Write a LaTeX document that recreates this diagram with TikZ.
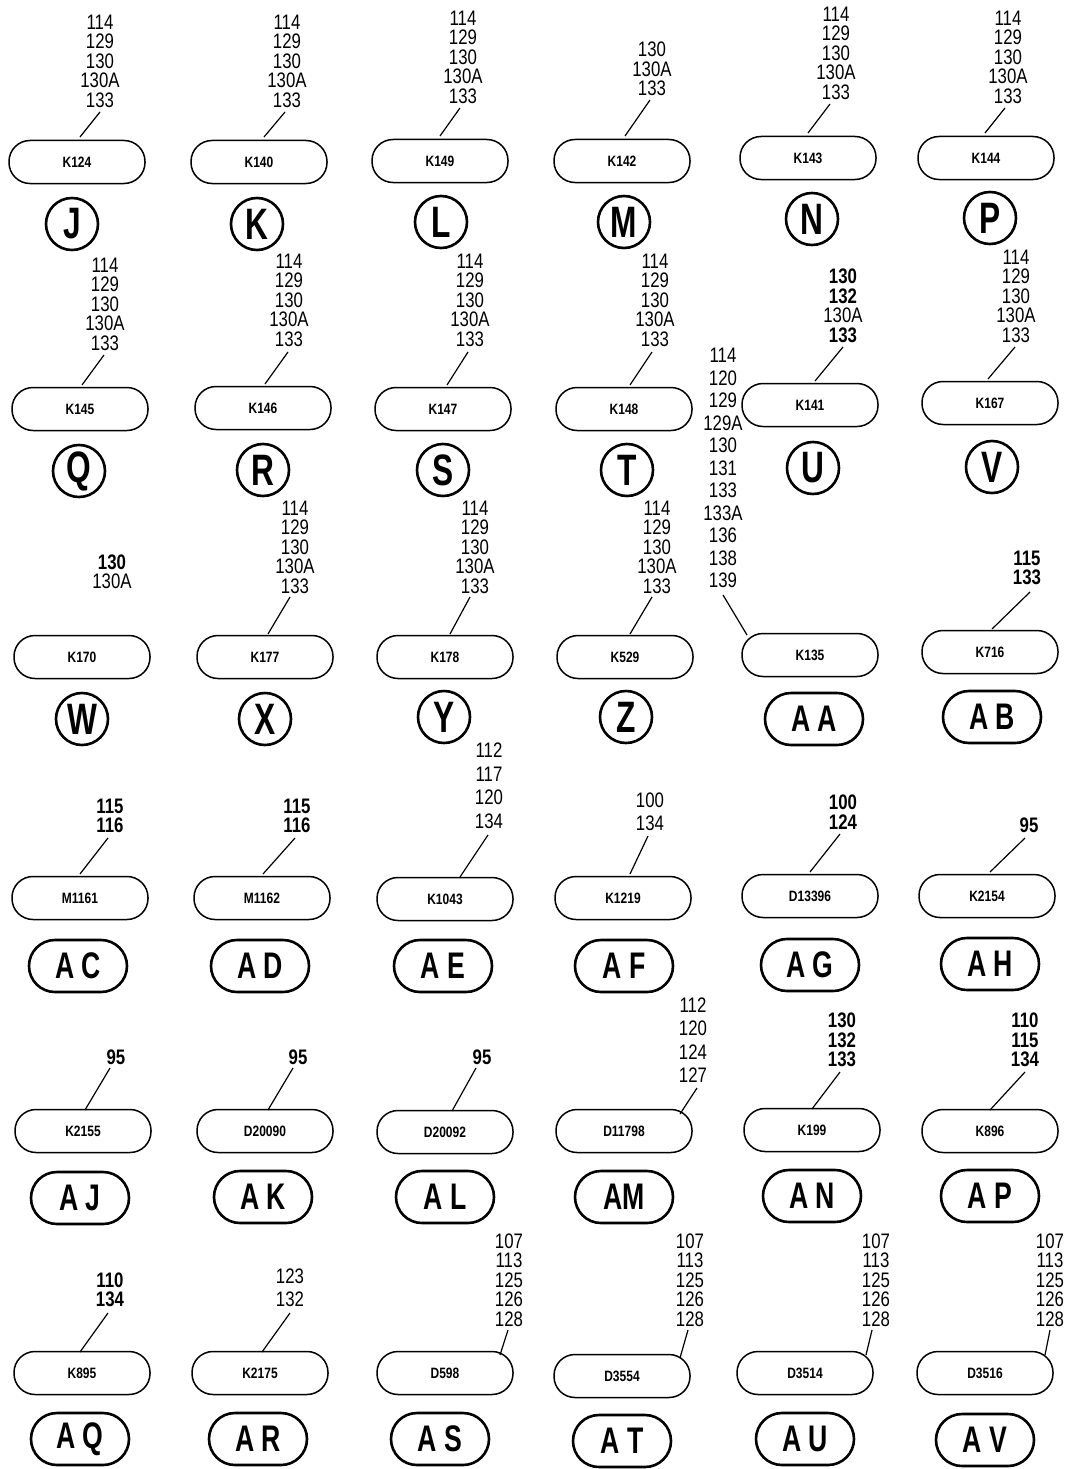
\documentclass[tikz,border=0pt]{standalone}
\usepackage{fontspec}
\newfontfamily\cond[FakeStretch=0.8]{Liberation Sans}
\newfontfamily\condl[FakeStretch=0.72]{Liberation Sans}
\newcommand\nsp[1]{\fontsize{21}{#1}\selectfont}
\tikzset{
  stack/.style={align=center,inner sep=0pt,font=\cond\nsp{19.5}},
  bstack/.style={stack,font=\cond\bfseries\nsp{19.5}},
  kbox/.style={draw,line width=1.5pt,rounded corners=21pt,minimum width=136pt,minimum height=43pt,inner sep=0pt,font=\cond\bfseries\fontsize{15}{15}\selectfont},
  circ/.style={draw,circle,line width=2.6pt,minimum size=52pt,inner sep=0pt,font=\condl\bfseries\fontsize{44}{44}\selectfont},
  pill/.style={draw,line width=2.6pt,rounded corners=26pt,minimum width=98pt,minimum height=52pt,inner sep=0pt,font=\condl\bfseries\fontsize{37}{37}\selectfont},
  lead/.style={line width=1.2pt}
}
\begin{document}
\begin{tikzpicture}[x=1pt,y=-1pt]
\useasboundingbox[fill=white] (0,0) rectangle (1066,1469);
% ---------- Row 1
\node[kbox] (bJ) at (77,162) {K124};
\node[circ] (cJ) at (72,224) {J};
\node[stack] (sJ) at (100,61) {114\\129\\130\\130A\\133};
\coordinate (Ja) at (100,112); \coordinate (Jb) at (80,137);
\draw[lead] (Ja) -- (Jb);

\node[kbox] (bK) at (259,162) {K140};
\node[circ] (cK) at (257,224) {K};
\node[stack] (sK) at (287,61) {114\\129\\130\\130A\\133};
\coordinate (Ka) at (285,112); \coordinate (Kb) at (264,137);
\draw[lead] (Ka) -- (Kb);

\node[kbox] (bL) at (440,161) {K149};
\node[circ] (cL) at (441,222) {L};
\node[stack] (sL) at (463,57) {114\\129\\130\\130A\\133};
\coordinate (La) at (460,108); \coordinate (Lb) at (440,136);
\draw[lead] (La) -- (Lb);

\node[kbox] (bM) at (622,161) {K142};
\node[circ] (cM) at (624,222) {M};
\node[stack] (sM) at (652,69) {130\\130A\\133};
\coordinate (Ma) at (650,100); \coordinate (Mb) at (625,136);
\draw[lead] (Ma) -- (Mb);

\node[kbox] (bN) at (808,158) {K143};
\node[circ] (cN) at (812,219) {N};
\node[stack] (sN) at (836,53) {114\\129\\130\\130A\\133};
\coordinate (Na) at (830,104); \coordinate (Nb) at (808,133);
\draw[lead] (Na) -- (Nb);

\node[kbox] (bP) at (986,158) {K144};
\node[circ] (cP) at (990,218) {P};
\node[stack] (sP) at (1008,57) {114\\129\\130\\130A\\133};
\coordinate (Pa) at (1005,108); \coordinate (Pb) at (985,133);
\draw[lead] (Pa) -- (Pb);

% ---------- Row 2
\node[kbox] (bQ) at (80,409) {K145};
\node[circ] (cQ) at (79,471) {Q};
\node[stack] (sQ) at (105,304) {114\\129\\130\\130A\\133};
\coordinate (Qa) at (104,355); \coordinate (Qb) at (82,385);
\draw[lead] (Qa) -- (Qb);

\node[kbox] (bR) at (263,408) {K146};
\node[circ] (cR) at (263,470) {R};
\node[stack] (sR) at (289,300) {114\\129\\130\\130A\\133};
\coordinate (Ra) at (288,352); \coordinate (Rb) at (265,384);
\draw[lead] (Ra) -- (Rb);

\node[kbox] (bS) at (443,409) {K147};
\node[circ] (cS) at (443,470) {S};
\node[stack] (sS) at (470,300) {114\\129\\130\\130A\\133};
\coordinate (Sa) at (468,352); \coordinate (Sb) at (447,385);
\draw[lead] (Sa) -- (Sb);

\node[kbox] (bT) at (624,409) {K148};
\node[circ] (cT) at (627,470) {T};
\node[stack] (sT) at (655,300) {114\\129\\130\\130A\\133};
\coordinate (Ta) at (652,352); \coordinate (Tb) at (630,385);
\draw[lead] (Ta) -- (Tb);

\node[kbox] (bU) at (810,405) {K141};
\node[circ] (cU) at (813,468) {U};
\node[stack] (sU) at (843,306) {\textbf{130}\\\textbf{132}\\130A\\\textbf{133}};
\coordinate (Ua) at (843,347); \coordinate (Ub) at (815,381);
\draw[lead] (Ua) -- (Ub);

\node[kbox] (bV) at (990,403) {K167};
\node[circ] (cV) at (992,467) {V};
\node[stack] (sV) at (1016,296) {114\\129\\130\\130A\\133};
\coordinate (Va) at (1015,347); \coordinate (Vb) at (988,379);
\draw[lead] (Va) -- (Vb);

% ---------- Row 3
\node[kbox] (bW) at (82,657) {K170};
\node[circ] (cW) at (82,719) {W};
\node[stack] (sW) at (112,572) {\textbf{130}\\130A};

\node[kbox] (bX) at (265,657) {K177};
\node[circ] (cX) at (265,719) {X};
\node[stack] (sX) at (295,547) {114\\129\\130\\130A\\133};
\coordinate (Xa) at (290,597); \coordinate (Xb) at (268,634);
\draw[lead] (Xa) -- (Xb);

\node[kbox] (bY) at (445,657) {K178};
\node[circ] (cY) at (444,717) {Y};
\node[stack] (sY) at (475,547) {114\\129\\130\\130A\\133};
\coordinate (Ya) at (470,597); \coordinate (Yb) at (450,634);
\draw[lead] (Ya) -- (Yb);

\node[kbox] (bZ) at (625,657) {K529};
\node[circ] (cZ) at (626,717) {Z};
\node[stack] (sZ) at (657,547) {114\\129\\130\\130A\\133};
\coordinate (Za) at (652,597); \coordinate (Zb) at (630,634);
\draw[lead] (Za) -- (Zb);

\node[kbox] (bAA) at (810,655) {K135};
\node[pill] (cAA) at (814,719) {A A};
\node[stack,font=\cond\nsp{22.5}] (sAA) at (723,468) {114\\120\\129\\129A\\130\\131\\133\\133A\\136\\138\\139};
\coordinate (AAa) at (723,595); \coordinate (AAb) at (747,635);
\draw[lead] (AAa) -- (AAb);

\node[kbox] (bAB) at (990,652) {K716};
\node[pill] (cAB) at (992,717) {A B};
\node[bstack] (sAB) at (1027,568) {115\\133};
\coordinate (ABa) at (1030,592); \coordinate (ABb) at (992,629);
\draw[lead] (ABa) -- (ABb);

% ---------- Row 4
\node[kbox] (bAC) at (80,898) {M1161};
\node[pill] (cAC) at (78,966) {A C};
\node[bstack] (sAC) at (110,816) {115\\116};
\coordinate (ACa) at (108,838); \coordinate (ACb) at (80,874);
\draw[lead] (ACa) -- (ACb);

\node[kbox] (bAD) at (262,898) {M1162};
\node[pill] (cAD) at (260,966) {A D};
\node[bstack] (sAD) at (297,816) {115\\116};
\coordinate (ADa) at (295,838); \coordinate (ADb) at (263,874);
\draw[lead] (ADa) -- (ADb);

\node[kbox] (bAE) at (445,899) {K1043};
\node[pill] (cAE) at (443,966) {A E};
\node[stack,font=\cond\nsp{23.5}] (sAE) at (489,786) {112\\117\\120\\134};
\coordinate (AEa) at (488,835); \coordinate (AEb) at (460,877);
\draw[lead] (AEa) -- (AEb);

\node[kbox] (bAF) at (623,898) {K1219};
\node[pill] (cAF) at (624,966) {A F};
\node[stack,font=\cond\nsp{23}] (sAF) at (650,812) {100\\134};
\coordinate (AFa) at (648,836); \coordinate (AFb) at (630,874);
\draw[lead] (AFa) -- (AFb);

\node[kbox] (bAG) at (810,896) {D13396};
\node[pill] (cAG) at (810,965) {A G};
\node[bstack] (sAG) at (843,812) {100\\124};
\coordinate (AGa) at (840,834); \coordinate (AGb) at (810,872);
\draw[lead] (AGa) -- (AGb);

\node[kbox] (bAH) at (987,896) {K2154};
\node[pill] (cAH) at (990,964) {A H};
\node[bstack] (sAH) at (1029,825) {95};
\coordinate (AHa) at (1025,838); \coordinate (AHb) at (990,872);
\draw[lead] (AHa) -- (AHb);

% ---------- Row 5
\node[kbox] (bAJ) at (83,1131) {K2155};
\node[pill] (cAJ) at (80,1198) {A J};
\node[bstack] (sAJ) at (116,1057) {95};
\coordinate (AJa) at (110,1068); \coordinate (AJb) at (85,1110);
\draw[lead] (AJa) -- (AJb);

\node[kbox] (bAK) at (265,1131) {D20090};
\node[pill] (cAK) at (263,1197) {A K};
\node[bstack] (sAK) at (298,1057) {95};
\coordinate (AKa) at (293,1068); \coordinate (AKb) at (268,1110);
\draw[lead] (AKa) -- (AKb);

\node[kbox] (bAL) at (445,1132) {D20092};
\node[pill] (cAL) at (445,1197) {A L};
\node[bstack] (sAL) at (482,1057) {95};
\coordinate (ALa) at (476,1068); \coordinate (ALb) at (452,1111);
\draw[lead] (ALa) -- (ALb);

\node[kbox] (bAM) at (624,1131) {D11798};
\node[pill] (cAM) at (624,1197) {AM};
\node[stack,font=\cond\nsp{23.5}] (sAM) at (693,1040) {112\\120\\124\\127};
\coordinate (AMa) at (697,1088); \coordinate (AMb) at (680,1114);
\draw[lead] (AMa) -- (AMb);

\node[kbox] (bAN) at (812,1130) {K199};
\node[pill] (cAN) at (812,1196) {A N};
\node[bstack] (sAN) at (842,1040) {130\\132\\133};
\coordinate (ANa) at (840,1072); \coordinate (ANb) at (812,1109);
\draw[lead] (ANa) -- (ANb);

\node[kbox] (bAP) at (990,1131) {K896};
\node[pill] (cAP) at (990,1196) {A P};
\node[bstack] (sAP) at (1025,1040) {110\\115\\134};
\coordinate (APa) at (1025,1072); \coordinate (APb) at (990,1110);
\draw[lead] (APa) -- (APb);

% ---------- Row 6
\node[kbox] (bAQ) at (82,1373) {K895};
\node[pill] (cAQ) at (80,1439) {A Q};
\node[bstack] (sAQ) at (110,1290) {110\\134};
\coordinate (AQa) at (108,1313); \coordinate (AQb) at (80,1352);
\draw[lead] (AQa) -- (AQb);

\node[kbox] (bAR) at (260,1373) {K2175};
\node[pill] (cAR) at (258,1439) {A R};
\node[stack,font=\cond\nsp{23}] (sAR) at (290,1288) {123\\132};
\coordinate (ARa) at (290,1313); \coordinate (ARb) at (262,1352);
\draw[lead] (ARa) -- (ARb);

\node[kbox] (bAS) at (445,1373) {D598};
\node[pill] (cAS) at (440,1439) {A S};
\node[stack] (sAS) at (509,1280) {107\\113\\125\\126\\128};
\coordinate (ASa) at (508,1330); \coordinate (ASb) at (500,1355);
\draw[lead] (ASa) -- (ASb);

\node[kbox] (bAT) at (622,1376) {D3554};
\node[pill] (cAT) at (622,1441) {A T};
\node[stack] (sAT) at (690,1280) {107\\113\\125\\126\\128};
\coordinate (ATa) at (688,1330); \coordinate (ATb) at (680,1358);
\draw[lead] (ATa) -- (ATb);

\node[kbox] (bAU) at (805,1373) {D3514};
\node[pill] (cAU) at (805,1439) {A U};
\node[stack] (sAU) at (876,1280) {107\\113\\125\\126\\128};
\coordinate (AUa) at (872,1330); \coordinate (AUb) at (866,1355);
\draw[lead] (AUa) -- (AUb);

\node[kbox] (bAV) at (985,1373) {D3516};
\node[pill] (cAV) at (985,1440) {A V};
\node[stack] (sAV) at (1050,1280) {107\\113\\125\\126\\128};
\coordinate (AVa) at (1050,1330); \coordinate (AVb) at (1045,1355);
\draw[lead] (AVa) -- (AVb);
\end{tikzpicture}
\end{document}
